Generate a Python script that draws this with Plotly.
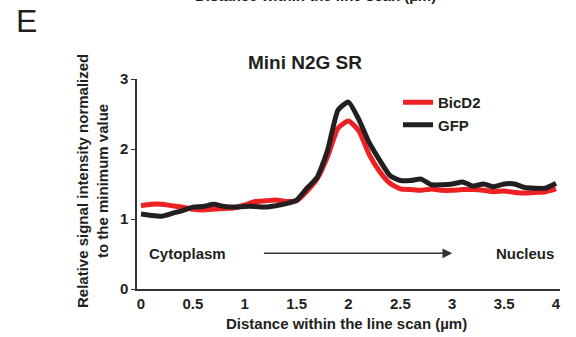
import plotly.graph_objects as go

distance = [round(i * 0.1, 1) for i in range(41)]

bicd2 = [1.19, 1.21, 1.21, 1.19, 1.17, 1.14, 1.13, 1.14, 1.15, 1.16,
         1.20, 1.25, 1.26, 1.27, 1.25, 1.26, 1.40, 1.58, 1.90, 2.30,
         2.40, 2.26, 1.92, 1.68, 1.51, 1.43, 1.42, 1.41, 1.43, 1.41,
         1.41, 1.42, 1.42, 1.41, 1.39, 1.40, 1.38, 1.37, 1.38, 1.39,
         1.43]

gfp = [1.07, 1.05, 1.04, 1.08, 1.12, 1.17, 1.18, 1.21, 1.18, 1.17,
       1.18, 1.18, 1.17, 1.19, 1.22, 1.27, 1.44, 1.60, 1.99, 2.56,
       2.67, 2.42, 2.09, 1.84, 1.62, 1.55, 1.55, 1.57, 1.49, 1.49,
       1.50, 1.53, 1.47, 1.50, 1.46, 1.50, 1.50, 1.45, 1.44, 1.44,
       1.51]

x_ticks = [0, 0.5, 1, 1.5, 2, 2.5, 3, 3.5, 4]
x_ticktext = ["0", "0.5", "1", "1.5", "2", "2.5", "3", "3.5", "4"]
y_ticks = [0, 1, 2, 3]

FONT = "Liberation Sans, Arial, sans-serif"
TXT = "#231f20"
RED = "#ed2024"
BLK = "#231f20"

fig = go.Figure()
fig.add_trace(go.Scatter(x=distance, y=bicd2, mode="lines", name="BicD2",
                         line=dict(color=RED, width=5, shape="spline", smoothing=0.5)))
fig.add_trace(go.Scatter(x=distance, y=gfp, mode="lines", name="GFP",
                         line=dict(color=BLK, width=5, shape="spline", smoothing=0.5)))

L, R, T, B = 137, 16, 79, 48
W, H = 576, 337
pw, ph = W - L - R, H - T - B

def px(p):
    return (p - L) / pw

def py(p):
    return (H - B - p) / ph

fig.update_layout(
    width=W, height=H,
    margin=dict(l=L, r=R, t=T, b=B),
    paper_bgcolor="white", plot_bgcolor="white",
    font=dict(family=FONT, color=TXT, size=15),
    showlegend=True,
    legend=dict(x=px(398), y=py(86), xanchor="left", yanchor="top",
                bgcolor="rgba(0,0,0,0)", font=dict(size=15, family=FONT, color=TXT, weight="bold"),
                tracegroupgap=0, itemwidth=30),
    title=dict(text="<b>Mini N2G SR</b>", x=px(305), xref="paper", xanchor="center",
               y=1 - 62 / H, yref="container", yanchor="middle",
               font=dict(size=19, family=FONT, color=TXT)),
    xaxis=dict(range=[-0.0386, 4.0386], tickvals=x_ticks, ticktext=x_ticktext,
               showgrid=False, zeroline=False, showline=True, linecolor="#333333",
               linewidth=1.5, ticks="", tickfont=dict(size=15, family=FONT, color=TXT, weight="bold"),
               fixedrange=True),
    yaxis=dict(range=[0, 3], tickvals=y_ticks, showgrid=False, zeroline=False,
               showline=True, linecolor="#333333", linewidth=1.5, ticks="outside",
               ticklen=4, tickwidth=1.2, tickcolor="#333333",
               tickfont=dict(size=15, family=FONT, color=TXT, weight="bold"),
               fixedrange=True),
)

# Arrow from Cytoplasm to Nucleus
fig.add_annotation(x=3.0, y=0.51, ax=1.17, ay=0.51, xref="x", yref="y",
                   axref="x", ayref="y", text="", showarrow=True,
                   arrowhead=2, arrowsize=1.3, arrowwidth=1.5, arrowcolor="#333333")
fig.add_annotation(x=0.06, y=0.51, xref="x", yref="y", text="<b>Cytoplasm</b>",
                   showarrow=False, xanchor="left", yanchor="middle",
                   font=dict(size=15, family=FONT, color=TXT))
fig.add_annotation(x=4.0, y=0.51, xref="x", yref="y", text="<b>Nucleus</b>",
                   showarrow=False, xanchor="right", yanchor="middle",
                   font=dict(size=15, family=FONT, color=TXT))

# Axis titles
fig.add_annotation(x=px(346), y=py(323), xref="paper", yref="paper",
                   text="<b>Distance within the line scan (µm)</b>", showarrow=False,
                   xanchor="center", yanchor="middle",
                   font=dict(size=15, family=FONT, color=TXT))
fig.add_annotation(x=px(92), y=py(181), xref="paper", yref="paper",
                   text="<b>Relative signal intensity normalized<br>to the minimum value</b>",
                   showarrow=False, textangle=-90, xanchor="center", yanchor="middle",
                   font=dict(size=15, family=FONT, color=TXT))

# Panel letter and cut-off text from previous panel
fig.add_annotation(x=px(14), y=py(21), xref="paper", yref="paper", text="E",
                   showarrow=False, xanchor="left", yanchor="middle",
                   font=dict(size=32, family=FONT, color=TXT))
fig.add_annotation(x=px(315), y=py(-5), xref="paper", yref="paper",
                   text="<b>Distance within the line scan (µm)</b>", showarrow=False,
                   xanchor="center", yanchor="middle",
                   font=dict(size=15, family=FONT, color=TXT))

fig.write_html("out.html")
